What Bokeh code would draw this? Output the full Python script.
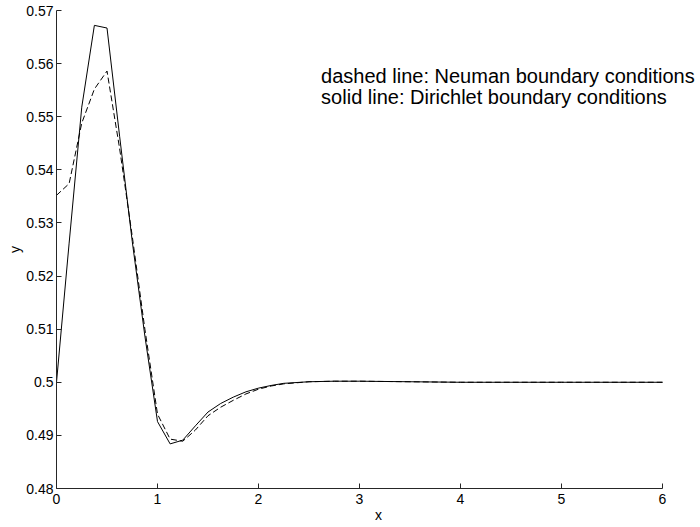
from bokeh.plotting import figure
from bokeh.models import Range1d, FixedTicker, CustomJSTickFormatter, Label
from bokeh.embed import file_html
from bokeh.resources import INLINE

# ---- data ----
x_vals = [0.0, 0.125, 0.25, 0.375, 0.5, 0.625, 0.75, 0.875, 1.0, 1.125, 1.25,
          1.375, 1.5, 1.625, 1.75, 1.875, 2.0, 2.125, 2.25, 2.5, 2.75, 3.0,
          3.5, 4.0, 5.0, 6.0]
dirichlet_y = [0.5000, 0.5262, 0.5518, 0.5672, 0.5667, 0.5463, 0.5265, 0.5087,
               0.4926, 0.4884, 0.4891, 0.4918, 0.4944, 0.4960, 0.4972, 0.4982,
               0.4989, 0.4994, 0.4998, 0.5001, 0.5002, 0.5002, 0.5001, 0.5000,
               0.5000, 0.5000]
neumann_y = [0.5352, 0.5374, 0.5488, 0.5552, 0.5586, 0.5440, 0.5275, 0.5100,
             0.4940, 0.4893, 0.4889, 0.4910, 0.4937, 0.4953, 0.4966, 0.4978,
             0.4987, 0.4993, 0.4997, 0.5001, 0.5002, 0.5002, 0.5001, 0.5000,
             0.5000, 0.5000]
x_ticks = [0, 1, 2, 3, 4, 5, 6]
y_ticks = [0.48, 0.49, 0.50, 0.51, 0.52, 0.53, 0.54, 0.55, 0.56, 0.57]
note_lines = ["dashed line: Neuman boundary conditions",
              "solid line: Dirichlet boundary conditions"]

FONT = "Liberation Sans"

# frame spans from the y axis to the right edge so the note is not clipped;
# the x axis itself is bounded to 0..6
X_MAX = 6.0 * (700 - 56) / 606.0

p = figure(width=700, height=527,
           min_border_left=56, min_border_top=10, min_border_right=0,
           min_border_bottom=39,
           x_range=Range1d(0, X_MAX), y_range=Range1d(0.48, 0.57),
           output_backend="svg", toolbar_location=None)

p.outline_line_color = None
p.xgrid.grid_line_color = None
p.ygrid.grid_line_color = None
p.background_fill_color = "white"
p.border_fill_color = "white"

fmt = CustomJSTickFormatter(code="return String(Number(tick.toFixed(4)));")

for ax, ticks, lab in ((p.xaxis, x_ticks, "x"), (p.yaxis, y_ticks, "y")):
    ax.ticker = FixedTicker(ticks=ticks)
    ax.formatter = fmt
    ax.axis_label = lab
    ax.axis_label_text_font = FONT
    ax.axis_label_text_font_style = "normal"
    ax.axis_label_text_font_size = "14px"
    ax.axis_label_text_color = "black"
    ax.axis_label_standoff = 0
    ax.major_label_text_font = FONT
    ax.major_label_text_font_size = "14px"
    ax.major_label_text_color = "black"
    ax.major_tick_in = 5
    ax.major_tick_out = 0
    ax.minor_tick_in = 0
    ax.minor_tick_out = 0
    ax.axis_line_color = "#262626"
    ax.major_tick_line_color = "#262626"

p.xaxis.bounds = (0, 6)
p.xaxis.major_label_standoff = 5
p.yaxis.major_label_standoff = 3

p.line(x_vals, neumann_y, line_color="black", line_width=1, line_dash="6 3")
p.line(x_vals, dirichlet_y, line_color="black", line_width=1)

note_x = 2.62
note_y = [0.5577, 0.5538]
for t, yy in zip(note_lines, note_y):
    p.add_layout(Label(x=note_x, y=yy, text=t, text_font=FONT,
                       text_font_size="20px", text_color="black",
                       text_baseline="alphabetic", text_align="left"))

open("out.html", "w").write(file_html(p, INLINE))
